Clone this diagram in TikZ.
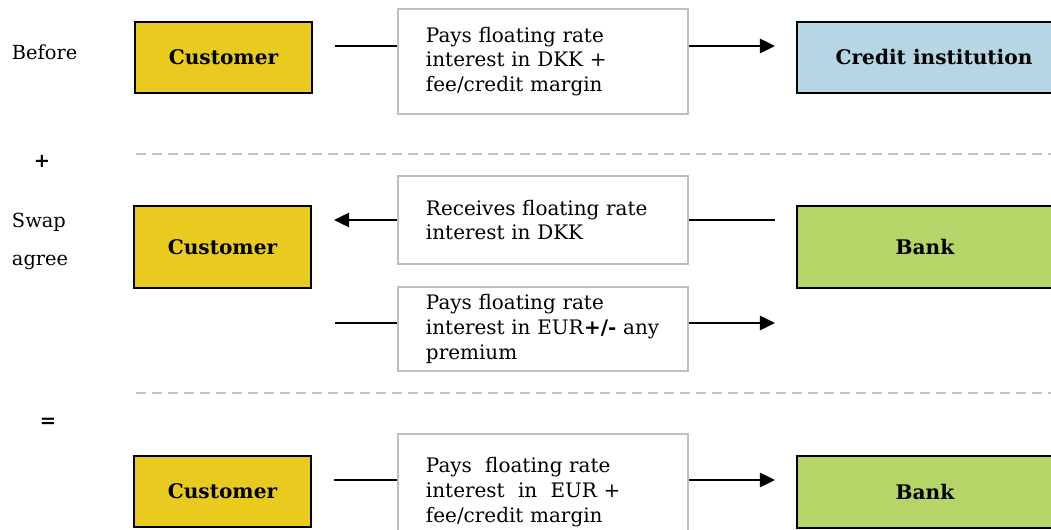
\documentclass[tikz,border=0pt]{standalone}
\usepackage{fontspec}
\setmainfont{DejaVu Serif}
\usepackage{xcolor}
\usetikzlibrary{arrows.meta, calc, positioning}

\definecolor{custyellow}{HTML}{E8CB1E}
\definecolor{creditblue}{HTML}{B4D6E5}
\definecolor{bankgreen}{HTML}{B5D568}
\definecolor{flowgray}{HTML}{BFBFBF}
\definecolor{sepgray}{HTML}{C4C4C4}

\begin{document}
\begin{tikzpicture}[x=0.025cm, y=-0.025cm,
    party/.style={draw, line width=1.3pt, inner sep=0pt,
      font=\bfseries\fontsize{14.3}{16}\selectfont},
    flow/.style={draw=flowgray, line width=1.3pt, minimum width=7.25cm,
      text width=5.85cm, inner xsep=0.7cm, inner ysep=0pt, align=left,
      font=\fontsize{14.2}{17.6}\selectfont},
    link/.style={line width=1.3pt},
    tolink/.style={link, -{Triangle[length=0.38cm, width=0.36cm]}},
    sepline/.style={draw=sepgray, line width=1.3pt, dash pattern=on 0.25cm off 0.15cm},
    side/.style={anchor=west, font=\fontsize{13.8}{15}\selectfont},
    sign/.style={font=\bfseries\fontsize{13.8}{15}\selectfont}]
                    \clip (0, 0) rectangle (1051, 530);

                    % left hand labels
                    \node[side] (before) at (7, 52) {Before};
                    \node[sign] (plus) at (42, 161) {+};
                    \node[side] (swap) at (7, 222) {Swap};
                    \node[side] (agree) at (7, 262) {agree};
                    \node[sign] (equals) at (48, 423) {=};

                    % parties
                    \node[party, fill=custyellow, minimum width=4.425cm, minimum height=1.775cm] (cust1) at (223.5, 57.5) {Customer};
                    \node[party, fill=custyellow, minimum width=4.425cm, minimum height=2.05cm] (cust2) at (222.5, 247) {Customer};
                    \node[party, fill=custyellow, minimum width=4.425cm, minimum height=1.775cm] (cust3) at (222.5, 491.5) {Customer};
                    \node[party, fill=creditblue, minimum width=6.85cm, minimum height=1.775cm] (credit) at (934, 57.5) {Credit institution};
                    \node[party, fill=bankgreen, minimum width=6.4cm, minimum height=2.05cm] (bank1) at (925, 247) {Bank};
                    \node[party, fill=bankgreen, minimum width=6.4cm, minimum height=1.8cm] (bank2) at (925, 492) {Bank};

                    % payment flows
                    \node[flow, minimum height=2.625cm] (pay1) at (543, 61.5) {Pays floating rate\\ interest in DKK +\\ fee/credit margin};
                    \node[flow, minimum height=2.2cm] (recv2) at (543, 220) {Receives floating rate\\ interest in DKK};
                    \node[flow, minimum height=2.1cm] (pay2) at (543, 329) {Pays floating rate\\ interest in EUR\textbf{+/-} any\\ premium};
                    \node[flow, minimum height=2.9cm] (pay3) at (543, 492) {Pays~ floating rate\\ interest~ in~ EUR +\\ fee/credit margin};

                    % free ends of the connectors
                    \coordinate (in1) at (335, 46);
                    \coordinate (out1) at (775, 46);
                    \coordinate (in2) at (775, 220);
                    \coordinate (out2) at (334, 220);
                    \coordinate (in3) at (335, 323);
                    \coordinate (out3) at (775, 323);
                    \coordinate (in4) at (334, 480);
                    \coordinate (out4) at (775, 480);

                    \draw[link] (in1) -- (in1 -| pay1.west);
                    \draw[tolink] (pay1.east |- out1) -- (out1);
                    \draw[link] (in2) -- (recv2.east);
                    \draw[tolink] (recv2.west) -- (out2);
                    \draw[link] (in3) -- (in3 -| pay2.west);
                    \draw[tolink] (pay2.east |- out3) -- (out3);
                    \draw[link] (in4) -- (in4 -| pay3.west);
                    \draw[tolink] (pay3.east |- out4) -- (out4);

                    % separators
                    \draw[sepline] (136, 154) -- (1051, 154)
                    (136, 393) -- (1051, 393);
                \end{tikzpicture}
\end{document}
